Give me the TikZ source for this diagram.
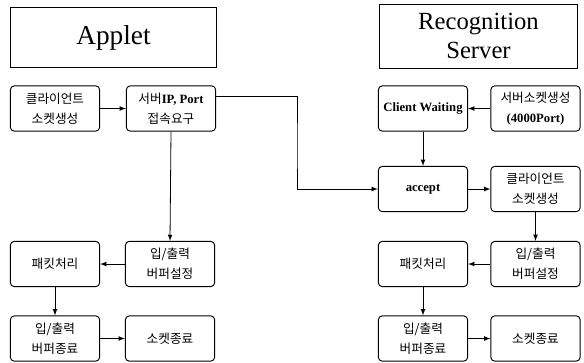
\documentclass[tikz,border=0pt]{standalone}
\usepackage{fontspec}
\setmainfont{Liberation Serif}
\newfontfamily\kr{Noto Sans CJK KR}
\usetikzlibrary{arrows,positioning,calc}

\tikzset{
  stepbox/.style={draw, rounded corners=3pt, line width=0.7pt, minimum width=67pt, minimum height=34pt, align=center, inner sep=1pt, font=\kr\fontsize{9.5}{15}\selectfont},
  latinbox/.style={stepbox, font=\rmfamily\bfseries\fontsize{9.5}{15}\selectfont},
  titlebox/.style={draw, line width=0.7pt, minimum height=45pt, align=center, font=\fontsize{18.5}{22}\selectfont},
  flow/.style={-latex, line width=0.6pt}
}

\begin{document}
\begin{tikzpicture}[x=0.75pt,y=-0.75pt]
\useasboundingbox (0,0) rectangle (584,362);

% titles
\node[titlebox, minimum width=155pt, font=\fontsize{20.5}{24}\selectfont] (applet) at (113.5,37.5) {Applet};
\node[titlebox, minimum width=149pt, minimum height=48pt] (server) at (478.5,36) {Recognition\\Server};

% applet side
\node[stepbox] (csock) at (55,108.5) {클라이언트\\소켓생성};
\node[stepbox] (connreq) at (171,108.5) {서버{\rmfamily\bfseries IP, Port}\\접속요구};
\node[stepbox] (abufset) at (170,264) {입/출력\\버퍼설정};
\node[stepbox] (apacket) at (55,264) {패킷처리};
\node[stepbox] (abufend) at (55,338.5) {입/출력\\버퍼종료};
\node[stepbox] (asockend) at (170,338.5) {소켓종료};

% server side
\node[latinbox] (waiting) at (423,108.5) {Client Waiting};
\node[stepbox] (ssock) at (535.5,108.5) {서버소켓생성\\{\rmfamily\bfseries (4000Port)}};
\node[latinbox] (accept) at (423,189) {accept};
\node[stepbox] (scsock) at (535.5,189) {클라이언트\\소켓생성};
\node[stepbox] (sbufset) at (535.5,264) {입/출력\\버퍼설정};
\node[stepbox] (spacket) at (423,264) {패킷처리};
\node[stepbox] (sbufend) at (423,338.5) {입/출력\\버퍼종료};
\node[stepbox] (ssockend) at (535.5,338.5) {소켓종료};

% connectors
\draw[flow] (csock) -- (connreq);
\draw[flow] ([yshift=9pt]connreq.east) -| ($(connreq.east)!0.5!(accept.west)$) |- (accept.west);
\draw[flow] (connreq.south) -- (abufset.north);
\draw[flow] (abufset) -- (apacket);
\draw[flow] (apacket) -- (abufend);
\draw[flow] (abufend) -- (asockend);

\draw[flow] (ssock) -- (waiting);
\draw[flow] (waiting) -- (accept);
\draw[flow] (accept) -- (scsock);
\draw[flow] (scsock) -- (sbufset);
\draw[flow] (sbufset) -- (spacket);
\draw[flow] (spacket) -- (sbufend);
\draw[flow] (sbufend) -- (ssockend);
\end{tikzpicture}
\end{document}
